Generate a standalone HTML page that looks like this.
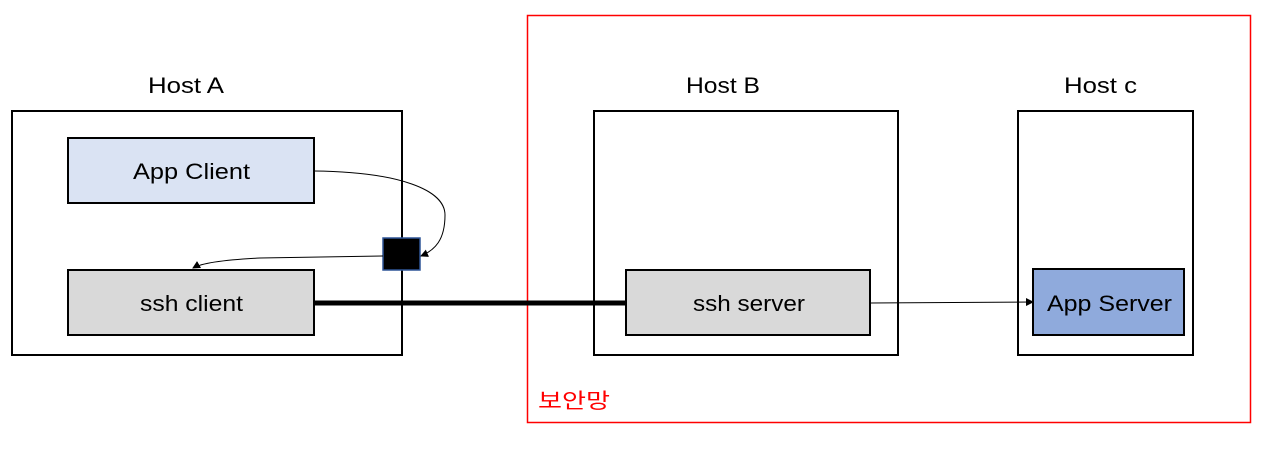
<!DOCTYPE html>
<html><head><meta charset="utf-8"><style>body{margin:0;background:#fff}svg{display:block}text{font-family:"Liberation Sans","Noto Sans CJK KR",sans-serif}</style></head><body>
<svg width="1280" height="450" viewBox="0 0 1280 450">
<defs><marker id="a" markerWidth="8" markerHeight="8" refX="7" refY="4" orient="auto" markerUnits="userSpaceOnUse"><path d="M0,0 L8,4 L0,8 Z" fill="#000"/></marker></defs>
<rect x="527.5" y="15.5" width="723" height="407" fill="none" stroke="#f00" stroke-width="1.5"/>
<text x="538" y="408" font-size="21" fill="#f00" textLength="72" lengthAdjust="spacingAndGlyphs">보안망</text>
<rect x="12" y="111" width="390" height="244" fill="#fff" stroke="#000" stroke-width="2"/>
<rect x="594" y="111" width="304" height="244" fill="#fff" stroke="#000" stroke-width="2"/>
<rect x="1018" y="111" width="175" height="244" fill="#fff" stroke="#000" stroke-width="2"/>
<text x="148" y="93" font-size="22" textLength="76" lengthAdjust="spacingAndGlyphs">Host A</text>
<text x="686" y="93" font-size="22" textLength="74" lengthAdjust="spacingAndGlyphs">Host B</text>
<text x="1064" y="93" font-size="22" textLength="73" lengthAdjust="spacingAndGlyphs">Host c</text>
<rect x="68" y="138" width="246" height="65" fill="#dae3f3" stroke="#000" stroke-width="2"/>
<text x="133" y="179" font-size="22" textLength="117" lengthAdjust="spacingAndGlyphs">App Client</text>
<rect x="68" y="270" width="246" height="65" fill="#d9d9d9" stroke="#000" stroke-width="2"/>
<text x="140" y="311" font-size="22" textLength="103" lengthAdjust="spacingAndGlyphs">ssh client</text>
<rect x="626" y="270" width="244" height="65" fill="#d9d9d9" stroke="#000" stroke-width="2"/>
<text x="693" y="311" font-size="22" textLength="112" lengthAdjust="spacingAndGlyphs">ssh server</text>
<rect x="1033" y="269" width="151" height="66" fill="#8faadc" stroke="#000" stroke-width="2"/>
<text x="1047" y="311" font-size="22" textLength="125" lengthAdjust="spacingAndGlyphs">App Server</text>
<line x1="314" y1="303" x2="626" y2="303" stroke="#000" stroke-width="5"/>
<rect x="383" y="238" width="37" height="32" fill="#000" stroke="#2f5597" stroke-width="1.5"/>
<path d="M314,171 C400,172 445,190 445,215 C445,240 435,250 421,256" fill="none" stroke="#000" stroke-width="1" marker-end="url(#a)"/>
<path d="M383,256 L260,258 C220,260 200,264 193,268" fill="none" stroke="#000" stroke-width="1" marker-end="url(#a)"/>
<path d="M870,303 L1033,302" fill="none" stroke="#000" stroke-width="1" marker-end="url(#a)"/>
</svg>
</body></html>
